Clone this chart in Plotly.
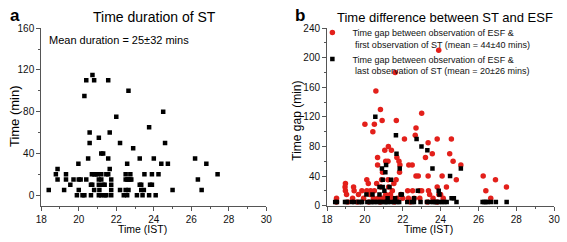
import plotly.graph_objects as go

# ---------------- data ----------------
# Panel a: duration of ST vs time (IST)
dur_time = [18.4, 18.78, 18.87, 18.87, 19.22, 19.32, 19.32, 19.55, 19.72, 19.9, 19.98, 20.0, 20.0, 20.1,
            20.2, 20.3, 20.3, 20.4, 20.4, 20.5, 20.58, 20.58, 20.65, 20.65, 20.72, 20.7, 20.73, 20.82,
            20.82, 20.82, 20.9, 21.0, 21.07, 21.07, 21.07, 21.07, 21.1, 21.2, 21.3, 21.2, 21.2, 21.2,
            21.3, 21.38, 21.38, 21.47, 21.47, 21.57, 21.57, 21.57, 21.65, 21.65, 21.73, 21.73, 21.73,
            21.73, 22.0, 22.2, 22.2, 22.4, 22.5, 22.5, 22.5, 22.58, 22.58, 22.58, 22.65, 22.65, 22.65,
            22.75, 22.75, 22.8, 22.9, 23.1, 23.25, 23.25, 23.33, 23.33, 23.4, 23.47, 23.5, 23.75, 23.75,
            23.8, 23.9, 23.9, 24.0, 24.1, 24.25, 24.4, 24.5, 24.6, 24.75, 25.0, 26.2, 26.35, 26.55,
            26.8, 27.4]
dur_min = [5, 20, 25, 15, 5, 20, 15, 10, 15, 0, 30, 15, 5, 15,
           0, 95, 0, 110, 15, 35, 50, 60, 0, 10, 10, 20, 115, 110,
           5, 20, 20, 20, 0, 10, 55, 15, 5, 40, 40, 20, 15, 0,
           10, 10, 0, 20, 0, 110, 35, 20, 60, 25, 15, 10, 5,
           0, 75, 50, 5, 0, 20, 15, 5, 30, 15, 0, 100, 15, 5,
           20, 15, 15, 45, 0, 35, 10, 10, 5, 0, 5, 20, 0, 65,
           10, 10, 20, 35, 0, 20, 30, 80, 50, 30, 5, 35, 15, 5,
           30, 20]

# Panel b: gap between ESF and first observation of ST
first_time = [18.5, 18.95, 18.97, 18.97, 19.03, 19.35, 19.4, 19.43, 19.66, 19.84, 19.93, 20.0, 20.1,
              20.18, 20.1, 20.27, 20.45, 20.42, 20.5, 20.5, 20.58, 20.62, 20.67, 20.67, 20.82, 20.83,
              20.88, 20.91, 20.93, 21.05, 21.0, 21.1, 21.22, 21.22, 21.24, 21.25, 21.4, 21.45, 21.53,
              21.3, 21.65, 21.66, 21.69, 21.8, 21.83, 21.85, 21.6, 21.45, 21.7, 22.09, 22.26, 22.32,
              22.5, 22.52, 22.66, 22.7, 22.7, 22.82, 22.87, 23.0, 23.0, 23.2, 23.34, 23.34, 23.36,
              23.42, 23.56, 23.6, 23.82, 23.82, 23.91, 24.0, 24.08, 24.14, 24.31, 24.48, 24.57, 24.66,
              24.83, 25.07, 26.25, 26.39, 26.65, 26.9, 27.48, 23.9, 22.3, 22.6, 22.9, 23.3, 20.7, 20.9,
              21.1, 21.9, 22.0, 19.1, 19.6, 20.2, 20.8, 21.55, 22.4, 23.82, 18.5, 21.35, 20.3]
first_gap = [10, 25, 30, 20, 15, 10, 25, 20, 15, 20, 10, 110, 35,
             30, 20, 15, 10, 100, 110, 20, 155, 30, 65, 55, 130, 25,
             35, 115, 45, 75, 10, 60, 60, 35, 80, 25, 75, 20, 30,
             10, 35, 115, 65, 60, 45, 55, 180, 10, 10, 90, 20, 55,
             55, 20, 95, 105, 40, 40, 20, 125, 20, 65, 85, 40, 20,
             15, 70, 10, 90, 25, 15, 15, 40, 10, 25, 70, 90, 60,
             35, 55, 40, 20, 10, 35, 25, 210, 10, 10, 10, 5, 10, 10,
             15, 15, 10, 5, 5, 5, 5, 5, 5, 5, 5, 15, 20]

# Panel b: gap between ESF and last observation of ST
last_time = [18.43, 18.52, 18.95, 19.04, 19.3, 19.44, 19.68, 19.78, 19.85, 20.13, 20.3, 20.37, 20.51,
             20.63, 20.79, 20.86, 21.03, 21.12, 21.2, 21.38, 21.55, 21.72, 21.81, 22.24, 22.5, 22.59,
             22.94, 23.28, 23.45, 23.63, 23.71, 23.8, 23.94, 24.06, 24.2, 24.32, 24.84, 26.22, 26.31,
             26.4, 26.48, 26.66, 26.92, 27.49,
             20.55, 21.64, 22.73, 22.99, 23.3, 21.67, 21.84, 23.57, 25.07, 21.12, 21.08, 20.9, 20.94,
             21.38, 24.5, 23.9, 23.94, 22.8, 21.03, 20.08, 21.9, 21.6, 24.58, 24.7, 20.77, 20.77,
             20.94, 21.3, 20.4, 21.2, 22.6, 21.95]
last_gap = [5, 5, 5, 5, 5, 5, 5, 5, 5, 5, 5, 5, 5,
            5, 5, 5, 5, 5, 5, 5, 5, 5, 5, 5, 5, 5,
            5, 5, 5, 5, 5, 5, 5, 5, 5, 5, 5, 5, 5,
            5, 5, 5, 5, 5,
            120, 95, 90, 80, 75, 70, 50, 50, 50, 55, 45, 50, 35,
            35, 40, 20, 15, 20, 20, 15, 15, 10, 10, 10, 15, 25,
            25, 25, 15, 10, 10, 15]

title_a = "Time duration of ST"
title_b = "Time difference between ST and ESF"
mean_a = "Mean duration = 25±32 mins"
name_first = "Time gap between observation of ESF &<br>\u00a0first observation of ST (mean = 44±40 mins)"
name_last = "Time gap between observation of ESF &<br>\u00a0last observation of ST (mean = 20±26 mins)"

# ---------------- figure ----------------
W, H = 567, 242
FONT = "Liberation Sans, Arial, sans-serif"
AX = "#555555"

fig = go.Figure()
fig.add_trace(go.Scatter(x=dur_time, y=dur_min, mode="markers", xaxis="x", yaxis="y",
                         marker=dict(symbol="square", size=4.5, color="black"), showlegend=False))
fig.add_trace(go.Scatter(x=first_time, y=first_gap, mode="markers", xaxis="x2", yaxis="y2",
                         marker=dict(symbol="circle", size=5.5, color="#e3201b"), name=name_first))
fig.add_trace(go.Scatter(x=last_time, y=last_gap, mode="markers", xaxis="x2", yaxis="y2",
                         marker=dict(symbol="square", size=4.5, color="black"), name=name_last))

xa_dom = [36 / W, 266 / W]
xb_dom = [328 / W, 560 / W]
y_dom = [(H - 210) / H, (H - 23.3) / H]


def base_axis(**kw):
    d = dict(showline=True, linecolor=AX, linewidth=1, mirror=False, showgrid=False, zeroline=False,
             ticks="outside", ticklen=4, tickwidth=1, tickcolor=AX,
             tickfont=dict(family=FONT, size=10, color="#111"))
    d.update(kw)
    return d


def mirror_axis(**kw):
    d = dict(showline=True, linecolor=AX, linewidth=1, showgrid=False, zeroline=False,
             ticks="inside", ticklen=3, tickwidth=1, tickcolor=AX, showticklabels=False)
    d.update(kw)
    return d


fig.update_layout(
    width=W, height=H, margin=dict(l=0, r=0, t=0, b=0),
    paper_bgcolor="white", plot_bgcolor="white",
    xaxis=base_axis(domain=xa_dom, anchor="y", range=[18, 30], tick0=18, dtick=2,
                    minor=dict(ticks="outside", ticklen=2, dtick=1, tick0=18, tickcolor=AX)),
    yaxis=base_axis(domain=y_dom, anchor="x", range=[-10, 160], tick0=0, dtick=40,
                    minor=dict(ticks="outside", ticklen=2, dtick=20, tick0=0, tickcolor=AX)),
    xaxis2=base_axis(domain=xb_dom, anchor="y2", range=[18, 30], tick0=18, dtick=2,
                     minor=dict(ticks="outside", ticklen=2, dtick=1, tick0=18, tickcolor=AX)),
    yaxis2=base_axis(domain=y_dom, anchor="x2", range=[0, 240], tick0=0, dtick=40,
                     minor=dict(ticks="outside", ticklen=2, dtick=20, tick0=0, tickcolor=AX)),
    xaxis3=mirror_axis(overlaying="x", side="top", anchor="y", range=[18, 30], tick0=18, dtick=1),
    yaxis3=mirror_axis(overlaying="y", side="right", anchor="x", range=[-10, 160], tick0=0, dtick=10),
    xaxis4=mirror_axis(overlaying="x2", side="top", anchor="y2", range=[18, 30], tick0=18, dtick=1),
    yaxis4=mirror_axis(overlaying="y2", side="right", anchor="x2", range=[0, 240], tick0=0, dtick=10),
    legend=dict(x=313 / W, y=1 - 15 / H, xanchor="left", yanchor="top", valign="top",
                bgcolor="rgba(0,0,0,0)", borderwidth=0, tracegroupgap=1,
                font=dict(family=FONT, size=9, color="#111"), itemwidth=30),
    showlegend=True,
)

ann = [
    dict(text="<b>a</b>", x=2 / W, y=1 - 10 / H, xanchor="left", yanchor="middle",
         font=dict(family=FONT, size=17, color="black")),
    dict(text="<b>b</b>", x=293 / W, y=1 - 10 / H, xanchor="left", yanchor="middle",
         font=dict(family=FONT, size=17, color="black")),
    dict(text=title_a, x=152 / W, y=1 - 12 / H, xanchor="center", yanchor="middle",
         font=dict(family=FONT, size=14, color="black")),
    dict(text=title_b, x=336 / W, y=1 - 12 / H, xanchor="left", yanchor="middle",
         font=dict(family=FONT, size=13, color="black")),
    dict(text=mean_a, x=42 / W, y=1 - 36 / H, xanchor="left", yanchor="middle",
         font=dict(family=FONT, size=11, color="black")),
    dict(text="Time (IST)", x=139 / W, y=1 - 235 / H, xanchor="center", yanchor="middle",
         font=dict(family=FONT, size=10.5, color="black")),
    dict(text="Time (IST)", x=432 / W, y=1 - 235 / H, xanchor="center", yanchor="middle",
         font=dict(family=FONT, size=10.5, color="black")),
    dict(text="Time (min)", x=8 / W, y=1 - 116 / H, xanchor="center", yanchor="middle", textangle=-90,
         font=dict(family=FONT, size=13, color="black")),
    dict(text="Time gap (min)", x=297 / W, y=1 - 121 / H, xanchor="center", yanchor="middle",
         textangle=-90, font=dict(family=FONT, size=12, color="black")),
]
for a in ann:
    a.update(xref="paper", yref="paper", showarrow=False)
fig.update_layout(annotations=ann)

fig.write_html("out.html", config={"displayModeBar": False},
               post_script="document.body.style.margin='0';document.body.style.padding='0';")
